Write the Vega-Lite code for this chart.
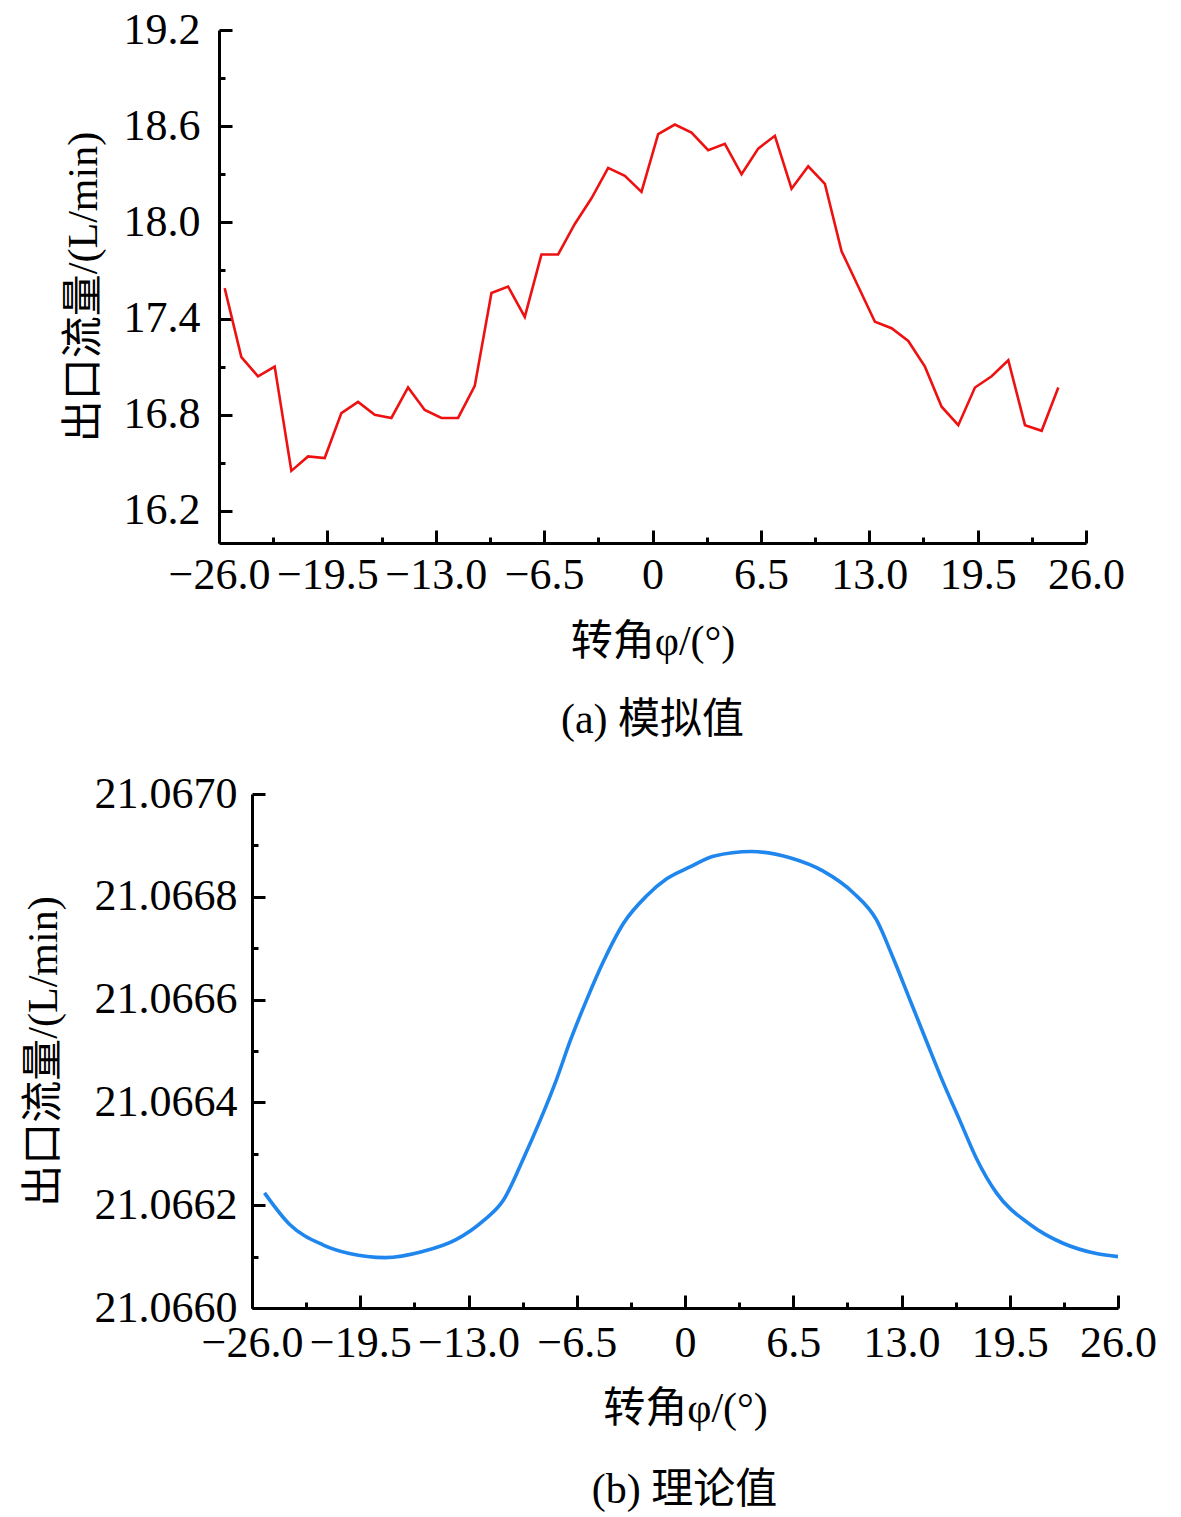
{
  "$schema": "https://vega.github.io/schema/vega-lite/v6.json",
  "background": "white",
  "padding": {"left": 22, "top": 8, "right": 8, "bottom": 10},
  "spacing": 31,
  "config": {
    "view": {"stroke": null},
    "font": "Liberation Serif, Noto Sans CJK SC",
    "axis": {
      "grid": false,
      "domainColor": "black",
      "domainWidth": 3,
      "tickColor": "black",
      "tickWidth": 3,
      "labelColor": "black",
      "labelFont": "Liberation Serif, Noto Sans CJK SC",
      "labelFontSize": 44,
      "titleColor": "black",
      "titleFont": "Liberation Serif, Noto Sans CJK SC",
      "titleFontSize": 42,
      "titleFontWeight": "normal",
      "labelFlush": false,
      "labelOverlap": false,
      "labelBound": false
    },
    "title": {"font": "Liberation Serif, Noto Sans CJK SC", "fontSize": 42, "fontWeight": "normal", "color": "black"}
  },
  "datasets": {
    "sim": [
      {"angle": -25.66, "flow": 17.59}, {"angle": -24.66, "flow": 17.16}, {"angle": -23.66, "flow": 17.04},
      {"angle": -22.66, "flow": 17.10}, {"angle": -21.66, "flow": 16.45}, {"angle": -20.66, "flow": 16.54},
      {"angle": -19.66, "flow": 16.53}, {"angle": -18.66, "flow": 16.81}, {"angle": -17.66, "flow": 16.88},
      {"angle": -16.66, "flow": 16.80}, {"angle": -15.66, "flow": 16.78}, {"angle": -14.66, "flow": 16.97},
      {"angle": -13.66, "flow": 16.83}, {"angle": -12.66, "flow": 16.78}, {"angle": -11.66, "flow": 16.78},
      {"angle": -10.66, "flow": 16.98}, {"angle": -9.66, "flow": 17.56}, {"angle": -8.66, "flow": 17.60},
      {"angle": -7.66, "flow": 17.41}, {"angle": -6.66, "flow": 17.80}, {"angle": -5.66, "flow": 17.80},
      {"angle": -4.66, "flow": 17.99}, {"angle": -3.66, "flow": 18.15}, {"angle": -2.66, "flow": 18.34},
      {"angle": -1.66, "flow": 18.29}, {"angle": -0.66, "flow": 18.19}, {"angle": 0.34, "flow": 18.55},
      {"angle": 1.34, "flow": 18.61}, {"angle": 2.34, "flow": 18.56}, {"angle": 3.34, "flow": 18.45},
      {"angle": 4.34, "flow": 18.49}, {"angle": 5.34, "flow": 18.30}, {"angle": 6.34, "flow": 18.46},
      {"angle": 7.34, "flow": 18.54}, {"angle": 8.34, "flow": 18.21}, {"angle": 9.34, "flow": 18.35},
      {"angle": 10.34, "flow": 18.24}, {"angle": 11.34, "flow": 17.82}, {"angle": 12.34, "flow": 17.60},
      {"angle": 13.34, "flow": 17.38}, {"angle": 14.34, "flow": 17.34}, {"angle": 15.34, "flow": 17.26},
      {"angle": 16.34, "flow": 17.10}, {"angle": 17.34, "flow": 16.85}, {"angle": 18.34, "flow": 16.735},
      {"angle": 19.34, "flow": 16.97}, {"angle": 20.34, "flow": 17.04}, {"angle": 21.34, "flow": 17.14},
      {"angle": 22.34, "flow": 16.735}, {"angle": 23.34, "flow": 16.70}, {"angle": 24.34, "flow": 16.97}
    ],
    "theory": [
      {"angle": -25.25, "flow": 21.066224}, {"angle": -23.75, "flow": 21.066163}, {"angle": -21.75, "flow": 21.066123},
      {"angle": -20.15, "flow": 21.066106}, {"angle": -18.0, "flow": 21.066098}, {"angle": -15.75, "flow": 21.06611},
      {"angle": -13.75, "flow": 21.066133}, {"angle": -12.1, "flow": 21.06617}, {"angle": -10.9, "flow": 21.06621},
      {"angle": -9.7, "flow": 21.066291}, {"angle": -8.7, "flow": 21.066365}, {"angle": -7.7, "flow": 21.066446},
      {"angle": -6.9, "flow": 21.066519}, {"angle": -5.9, "flow": 21.0666}, {"angle": -4.9, "flow": 21.066674},
      {"angle": -3.7, "flow": 21.066748}, {"angle": -2.3, "flow": 21.066802}, {"angle": -1.1, "flow": 21.066835},
      {"angle": 0.3, "flow": 21.066858}, {"angle": 1.7, "flow": 21.066879}, {"angle": 4.0, "flow": 21.066888},
      {"angle": 6.3, "flow": 21.066876}, {"angle": 8.3, "flow": 21.06685}, {"angle": 10.1, "flow": 21.066808},
      {"angle": 11.5, "flow": 21.066755}, {"angle": 12.5, "flow": 21.066681}, {"angle": 13.5, "flow": 21.0666},
      {"angle": 14.5, "flow": 21.066519}, {"angle": 15.5, "flow": 21.066439}, {"angle": 16.5, "flow": 21.066365},
      {"angle": 17.5, "flow": 21.066291}, {"angle": 18.7, "flow": 21.066224}, {"angle": 20.7, "flow": 21.066163},
      {"angle": 22.7, "flow": 21.066126}, {"angle": 24.7, "flow": 21.066106}, {"angle": 26.0, "flow": 21.0661}
    ]
  },
  "vconcat": [
    {
      "width": 867,
      "height": 513,
      "title": {"text": "(a) 模拟值", "orient": "bottom", "offset": 38},
      "data": {"name": "sim"},
      "layer": [
        {
          "mark": {"type": "line", "color": "#ee1111", "strokeWidth": 2.6},
          "encoding": {
            "x": {
              "field": "angle", "type": "quantitative",
              "scale": {"domain": [-26, 26], "nice": false, "zero": false},
              "axis": {
                "orient": "bottom", "title": "转角φ/(°)", "titlePadding": 24,
                "values": [-26, -19.5, -13, -6.5, 0, 6.5, 13, 19.5, 26],
                "labelExpr": "datum.value == 0 ? '0' : format(datum.value, '.1f')",
                "tickSize": -13, "labelPadding": 23
              }
            },
            "y": {
              "field": "flow", "type": "quantitative",
              "scale": {"domain": [16.0, 19.2], "nice": false, "zero": false},
              "axis": {
                "orient": "left", "title": "出口流量/(L/min)", "titlePadding": 18,
                "values": [16.2, 16.8, 17.4, 18.0, 18.6, 19.2],
                "labelExpr": "format(datum.value, '.1f')",
                "tickSize": -13, "labelPadding": 32
              }
            }
          }
        },
        {
          "mark": {"type": "line", "opacity": 0},
          "encoding": {
            "x": {
              "field": "angle", "type": "quantitative",
              "axis": {
                "orient": "bottom", "title": null, "labels": false, "domain": false,
                "values": [-22.75, -16.25, -9.75, -3.25, 3.25, 9.75, 16.25, 22.75],
                "tickSize": -6
              }
            },
            "y": {
              "field": "flow", "type": "quantitative",
              "axis": {
                "orient": "left", "title": null, "labels": false, "domain": false,
                "values": [16.5, 17.1, 17.7, 18.3, 18.9],
                "tickSize": -6
              }
            }
          }
        }
      ],
      "resolve": {"axis": {"x": "independent", "y": "independent"}}
    },
    {
      "width": 899,
      "height": 514,
      "title": {"text": "(b) 理论值", "orient": "bottom", "offset": 41, "dx": 16},
      "data": {"name": "theory"},
      "layer": [
        {
          "mark": {"type": "line", "color": "#1f86ee", "strokeWidth": 3.6, "interpolate": "monotone"},
          "encoding": {
            "x": {
              "field": "angle", "type": "quantitative",
              "scale": {"domain": [-26, 26], "range": [33, 899], "nice": false, "zero": false},
              "axis": {
                "orient": "bottom", "title": "转角φ/(°)", "titlePadding": 23,
                "values": [-26, -19.5, -13, -6.5, 0, 6.5, 13, 19.5, 26],
                "labelExpr": "datum.value == 0 ? '0' : format(datum.value, '.1f')",
                "tickSize": -13, "labelPadding": 26
              }
            },
            "y": {
              "field": "flow", "type": "quantitative",
              "scale": {"domain": [21.066, 21.067], "nice": false, "zero": false},
              "axis": {
                "orient": "left", "offset": -33, "title": "出口流量/(L/min)", "titlePadding": 29,
                "values": [21.066, 21.0662, 21.0664, 21.0666, 21.0668, 21.067],
                "labelExpr": "format(datum.value, '.4f')",
                "tickSize": -13, "labelPadding": 28
              }
            }
          }
        },
        {
          "mark": {"type": "line", "opacity": 0},
          "encoding": {
            "x": {
              "field": "angle", "type": "quantitative",
              "axis": {
                "orient": "bottom", "title": null, "labels": false, "domain": false,
                "values": [-22.75, -16.25, -9.75, -3.25, 3.25, 9.75, 16.25, 22.75],
                "tickSize": -6
              }
            },
            "y": {
              "field": "flow", "type": "quantitative",
              "axis": {
                "orient": "left", "offset": -33, "title": null, "labels": false, "domain": false,
                "values": [21.0661, 21.0663, 21.0665, 21.0667, 21.0669],
                "tickSize": -6
              }
            }
          }
        }
      ],
      "resolve": {"axis": {"x": "independent", "y": "independent"}}
    }
  ]
}
